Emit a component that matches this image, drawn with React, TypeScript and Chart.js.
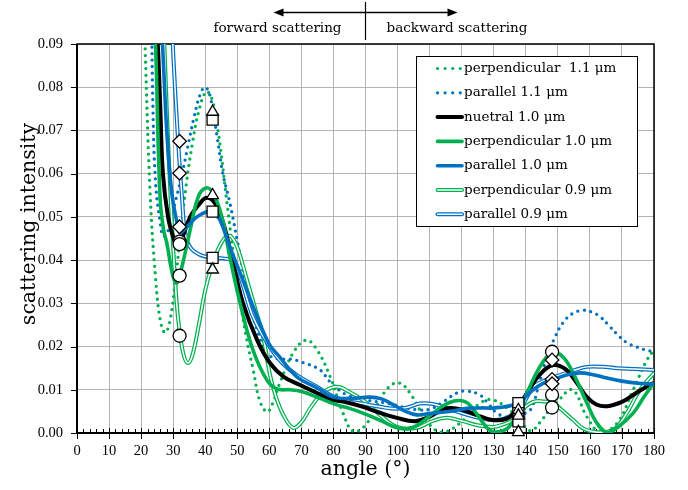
import React, { useEffect, useRef } from "react";
import { Chart, registerables } from "chart.js";

Chart.register(...registerables);

const GREEN = "#00b050";
const BLUE = "#0070c0";
const BLACK = "#000000";

// ---- axis ticks ----
const xTickValues = [0, 10, 20, 30, 40, 50, 60, 70, 80, 90, 100, 110, 120, 130, 140, 150, 160, 170, 180];
const yTickValues = [0, 0.01, 0.02, 0.03, 0.04, 0.05, 0.06, 0.07, 0.08, 0.09];

// ---- series labels ----
const seriesLabels = [
  "perpendicular  1.1 \u03bcm",
  "parallel 1.1 \u03bcm",
  "nuetral 1.0 \u03bcm",
  "perpendicular 1.0 \u03bcm",
  "parallel 1.0 \u03bcm",
  "perpendicular 0.9 \u03bcm",
  "parallel 0.9 \u03bcm",
];

// ---- perpendicular 1.1 um (green dotted) ----
const perp11Angles = [21, 22.8, 24.5, 26, 27.5, 29, 30.5, 32, 34, 36, 38, 40.3, 42, 44, 46.8, 49, 51, 53, 55, 57, 59.3, 61, 63.3, 67.4, 71.5, 74.9, 79, 83, 86.3, 90.5, 96.5, 100.5, 104.8, 109.2, 114.2, 121.7, 125.7, 129.5, 135, 138.5, 141.5, 144.5, 147, 149.8, 154.5, 159.1, 163.2, 168.5, 173.5, 177.8, 180];
const perp11Values = [0.095, 0.0556, 0.036, 0.026, 0.0232, 0.026, 0.034, 0.044, 0.057, 0.067, 0.0745, 0.079, 0.0775, 0.07, 0.0532, 0.04, 0.03, 0.0215, 0.0145, 0.0075, 0.0049, 0.0068, 0.0116, 0.0185, 0.0215, 0.0192, 0.013, 0.0046, 0.0003, 0.0023, 0.01, 0.0116, 0.0082, 0.0026, 0.0002, 0.0037, 0.0069, 0.0077, 0.0053, 0.0025, 0.0005, 0.0025, 0.005, 0.0072, 0.01, 0.0037, 0.0002, 0.0023, 0.01, 0.0169, 0.0192];

// ---- parallel 1.1 um (blue dotted) ----
const par11Angles = [23.2, 23.7, 24.5, 25.9, 27, 28.5, 30.5, 32.5, 34.5, 36.5, 38.5, 40, 41.5, 43.7, 45.5, 47.7, 50.9, 53.5, 56.2, 59.2, 62.4, 66.5, 70.5, 75.8, 79, 84.2, 90.5, 96.7, 101.7, 106, 110.1, 114.2, 118.6, 121.5, 125.7, 128.5, 131, 134.5, 138, 140.4, 142, 144, 146.6, 149, 151.6, 154.5, 157.9, 160.5, 163.2, 166, 169.4, 172, 174.7, 177, 180];
const par11Values = [0.1, 0.075, 0.058, 0.049, 0.0455, 0.047, 0.053, 0.059, 0.066, 0.073, 0.0785, 0.08, 0.078, 0.0686, 0.06, 0.0532, 0.041, 0.031, 0.0238, 0.0185, 0.0172, 0.0171, 0.0163, 0.0146, 0.0118, 0.0088, 0.0076, 0.0069, 0.006, 0.0054, 0.0055, 0.0072, 0.0093, 0.0097, 0.0088, 0.0066, 0.0046, 0.0036, 0.0042, 0.0048, 0.006, 0.011, 0.0176, 0.022, 0.0255, 0.0276, 0.0284, 0.028, 0.0269, 0.0248, 0.0222, 0.0207, 0.0199, 0.0193, 0.0188];

// ---- neutral 1.0 um (black) ----
const neut10Angles = [24.3, 25.2, 26, 26.8, 28.4, 30, 31.5, 33, 35.3, 38.4, 40.5, 43, 45.6, 48.7, 51.8, 56.2, 60.2, 64.5, 69.6, 75, 79, 84, 89, 94, 99.8, 105.5, 110, 115, 119.5, 124.5, 129.5, 134, 136.5, 140.4, 144.5, 148.5, 152.5, 156, 159.1, 162, 165.4, 170, 173.5, 176.5, 180];
const neut10Values = [0.1, 0.09, 0.075, 0.06, 0.05, 0.0454, 0.043, 0.0455, 0.05, 0.0532, 0.0544, 0.0532, 0.0486, 0.0393, 0.03, 0.0215, 0.0162, 0.013, 0.0111, 0.0092, 0.0078, 0.0071, 0.0061, 0.0048, 0.0035, 0.0027, 0.0038, 0.0057, 0.0055, 0.0042, 0.003, 0.0033, 0.0048, 0.0093, 0.0136, 0.0157, 0.0147, 0.0115, 0.0083, 0.0066, 0.0062, 0.0072, 0.0088, 0.0102, 0.0116];

// ---- perpendicular 1.0 um (green thick) ----
const perp10Angles = [23.8, 24.5, 25.9, 27, 28, 30, 31.2, 33, 35.3, 37.8, 40.2, 42.4, 45.2, 47.7, 50.9, 54.9, 59.2, 62.4, 66.5, 70, 74.9, 81.1, 85, 89.2, 95, 99.8, 103, 106, 112.3, 116, 119.5, 122.5, 127.9, 130.5, 135, 140.4, 144, 148, 151.6, 155, 159.1, 162, 165.4, 169, 173.5, 177, 180];
const perp10Values = [0.1, 0.09, 0.0546, 0.047, 0.044, 0.0361, 0.0347, 0.0393, 0.047, 0.0546, 0.0567, 0.0556, 0.05, 0.0407, 0.03, 0.0192, 0.0123, 0.0102, 0.01, 0.0096, 0.0083, 0.0065, 0.0057, 0.0046, 0.0028, 0.0012, 0.001, 0.0017, 0.0053, 0.007, 0.0075, 0.0065, 0.0012, 0.0002, 0.0016, 0.0093, 0.0148, 0.0185, 0.0176, 0.0135, 0.0069, 0.0025, 0.0001, 0.0015, 0.0046, 0.0085, 0.0116];

// ---- parallel 1.0 um (blue thick) ----
const par10Angles = [26, 27, 28, 29.5, 31.2, 32.1, 34.3, 37.4, 40.5, 42.4, 44.6, 47.7, 50.9, 56.2, 60, 63, 68.6, 74.9, 79.9, 85, 91.4, 95, 98, 102, 106, 110, 115.4, 121.7, 126, 130, 136, 139, 142.3, 146, 149.8, 153, 156.9, 161, 165.4, 170, 175, 180];
const par10Values = [0.1, 0.085, 0.07, 0.056, 0.0486, 0.0463, 0.0477, 0.05, 0.0512, 0.0512, 0.0493, 0.043, 0.037, 0.0269, 0.0205, 0.0178, 0.013, 0.0104, 0.0083, 0.008, 0.0083, 0.0079, 0.0068, 0.0052, 0.0042, 0.0045, 0.0049, 0.0057, 0.0058, 0.0058, 0.0065, 0.0078, 0.01, 0.0117, 0.0127, 0.0135, 0.0139, 0.0135, 0.0127, 0.012, 0.0115, 0.0113];

// ---- perpendicular 0.9 um (green double) ----
const perp09Angles = [26.8, 28, 29.5, 31, 32, 33.3, 34.6, 36, 38, 40, 42, 44, 46.5, 48, 50, 53, 55.5, 58, 60.2, 62, 64.5, 67.4, 70, 73, 77, 81.1, 85, 89.2, 94, 99.8, 106, 111, 115.4, 120, 125, 129.8, 133, 136, 139, 142.3, 145.5, 148.5, 151, 154.8, 158, 162.2, 167.2, 171, 175.6, 180];
const perp09Values = [0.1, 0.075, 0.05, 0.031, 0.0235, 0.018, 0.0162, 0.018, 0.025, 0.033, 0.0385, 0.0425, 0.0455, 0.0455, 0.043, 0.0355, 0.029, 0.0225, 0.0135, 0.0085, 0.004, 0.0012, 0.0025, 0.006, 0.0095, 0.0107, 0.0095, 0.0076, 0.0045, 0.0014, 0.0012, 0.0028, 0.0035, 0.0028, 0.0018, 0.0014, 0.002, 0.003, 0.0055, 0.0072, 0.0073, 0.0069, 0.0055, 0.003, 0.001, 0.0002, 0.0007, 0.004, 0.01, 0.0139];

// ---- parallel 0.9 um (blue double) ----
const par09Angles = [29.3, 30, 31.5, 32.8, 33.7, 35.3, 38.4, 42.1, 45.6, 48.4, 50.9, 54.9, 60.2, 64, 68.6, 74.9, 79.9, 85, 89.2, 95, 99.8, 103.5, 107, 111, 115, 121.7, 126, 129.8, 134, 138.5, 142.3, 146, 150.7, 155, 159.1, 164, 168.5, 174, 180];
const par09Values = [0.1, 0.088, 0.068, 0.054, 0.0465, 0.043, 0.0412, 0.0406, 0.0404, 0.0398, 0.0361, 0.0269, 0.0198, 0.0162, 0.0134, 0.0107, 0.0085, 0.0073, 0.0068, 0.006, 0.0056, 0.006, 0.0068, 0.0067, 0.0058, 0.0042, 0.0034, 0.003, 0.0035, 0.006, 0.0106, 0.0122, 0.0134, 0.0145, 0.0153, 0.0153, 0.015, 0.0148, 0.0146];

// ---- markers ----
const diamondAngles = [32, 32, 32, 148.2, 148.2, 148.2];
const diamondValues = [0.0675, 0.0601, 0.0477, 0.0169, 0.0124, 0.0114];
const circleAngles = [32, 32, 32, 32, 148.2, 148.2, 148.2];
const circleValues = [0.0443, 0.0437, 0.0364, 0.0225, 0.0188, 0.0088, 0.0059];
const triangleAngles = [42.3, 42.3, 42.3, 137.7, 137.7, 137.7];
const triangleValues = [0.0743, 0.055, 0.0378, 0.0053, 0.004, 0.0002];
const squareAngles = [42.3, 42.3, 42.3, 137.7, 137.7, 137.7];
const squareValues = [0.0725, 0.0512, 0.0405, 0.0069, 0.0046, 0.0027];

const pts = (xs: number[], ys: number[]) => xs.map((x, i) => ({ x, y: ys[i] }));

const TEXT_FONT = '"DejaVu Serif", "Liberation Serif", serif';
const TICK_FONT = '"Liberation Serif", "DejaVu Serif", serif';

type Kind = "dotted" | "solid" | "double";
const legendKinds: { kind: Kind; color: string; width: number }[] = [
  { kind: "dotted", color: GREEN, width: 3.2 },
  { kind: "dotted", color: BLUE, width: 3.2 },
  { kind: "solid", color: BLACK, width: 4 },
  { kind: "solid", color: GREEN, width: 3.6 },
  { kind: "solid", color: BLUE, width: 3.6 },
  { kind: "double", color: GREEN, width: 4 },
  { kind: "double", color: BLUE, width: 4 },
];

const decor = {
  id: "decor",
  beforeDatasetsDraw(chart: any) {
    const { ctx, chartArea: a, scales } = chart;
    const xs = scales.x;
    const ys = scales.y;
    ctx.save();
    ctx.strokeStyle = "#000";
    ctx.lineWidth = 1;
    for (let v = 0; v <= 180; v += 2) {
      const px = Math.round(xs.getPixelForValue(v)) + 0.5;
      ctx.beginPath();
      if (v % 10 === 0) {
        ctx.moveTo(px, a.bottom - 5);
        ctx.lineTo(px, a.bottom + 6);
      } else {
        ctx.moveTo(px, a.bottom - 4);
        ctx.lineTo(px, a.bottom);
      }
      ctx.stroke();
    }
    for (const v of yTickValues) {
      const py = Math.round(ys.getPixelForValue(v)) + 0.5;
      ctx.beginPath();
      ctx.moveTo(a.left - 6, py);
      ctx.lineTo(a.left, py);
      ctx.stroke();
    }
    ctx.lineWidth = 1.5;
    ctx.strokeRect(a.left, a.top, a.right - a.left, a.bottom - a.top);
    ctx.lineWidth = 2;
    ctx.beginPath();
    ctx.moveTo(a.left, a.top);
    ctx.lineTo(a.left, a.bottom);
    ctx.lineTo(a.right, a.bottom);
    ctx.stroke();
    ctx.restore();
  },
  afterDraw(chart: any) {
    const { ctx, chartArea: a, scales } = chart;
    const xs = scales.x;
    ctx.save();
    // legend box
    const bx = 416, by = 56, bw = 221, bh = 170;
    ctx.fillStyle = "#fff";
    ctx.fillRect(bx, by, bw, bh);
    ctx.strokeStyle = "#000";
    ctx.lineWidth = 1;
    ctx.strokeRect(bx + 0.5, by + 0.5, bw, bh);
    ctx.font = `13.5px ${TEXT_FONT}`;
    ctx.textBaseline = "middle";
    ctx.textAlign = "left";
    seriesLabels.forEach((label, i) => {
      const y = 68.5 + i * 24.3;
      const k = legendKinds[i];
      const x0 = 437.5, x1 = 462;
      ctx.save();
      ctx.strokeStyle = k.color;
      if (k.kind === "dotted") {
        ctx.setLineDash([0, 7.6]);
        ctx.lineCap = "round";
        ctx.lineWidth = k.width;
        ctx.beginPath();
        ctx.moveTo(x0, y);
        ctx.lineTo(x1 + 1, y);
        ctx.stroke();
      } else if (k.kind === "solid") {
        ctx.lineWidth = k.width;
        ctx.lineCap = "round";
        ctx.beginPath();
        ctx.moveTo(x0, y);
        ctx.lineTo(x1, y);
        ctx.stroke();
      } else {
        ctx.lineWidth = k.width;
        ctx.lineCap = "round";
        ctx.beginPath();
        ctx.moveTo(x0, y);
        ctx.lineTo(x1, y);
        ctx.stroke();
        ctx.strokeStyle = "#fff";
        ctx.lineWidth = 1.6;
        ctx.beginPath();
        ctx.moveTo(x0, y);
        ctx.lineTo(x1, y);
        ctx.stroke();
      }
      ctx.restore();
      ctx.fillStyle = "#000";
      ctx.fillText(label, 464, y);
    });

    // top annotation
    const cx = xs.getPixelForValue(90);
    ctx.strokeStyle = "#000";
    ctx.fillStyle = "#000";
    ctx.lineWidth = 1.2;
    ctx.beginPath();
    ctx.moveTo(cx, 2);
    ctx.lineTo(cx, 40);
    ctx.stroke();
    const ay = 12.5, ax0 = cx - 92, ax1 = cx + 92;
    ctx.lineWidth = 1.5;
    ctx.beginPath();
    ctx.moveTo(ax0 + 6, ay);
    ctx.lineTo(ax1 - 6, ay);
    ctx.stroke();
    ctx.beginPath();
    ctx.moveTo(ax0, ay);
    ctx.lineTo(ax0 + 10, ay - 4);
    ctx.lineTo(ax0 + 10, ay + 4);
    ctx.closePath();
    ctx.fill();
    ctx.beginPath();
    ctx.moveTo(ax1, ay);
    ctx.lineTo(ax1 - 10, ay - 4);
    ctx.lineTo(ax1 - 10, ay + 4);
    ctx.closePath();
    ctx.fill();
    ctx.font = `13.5px ${TEXT_FONT}`;
    ctx.textBaseline = "middle";
    ctx.textAlign = "right";
    ctx.fillText("forward scattering", cx - 24, 28);
    ctx.textAlign = "left";
    ctx.fillText("backward scattering", cx + 21, 28);

    // axis titles
    ctx.font = `20.5px ${TEXT_FONT}`;
    ctx.textAlign = "center";
    ctx.textBaseline = "middle";
    ctx.fillText("angle (\u00b0)", (a.left + a.right) / 2, 470);
    ctx.save();
    ctx.translate(30, 224);
    ctx.rotate(-Math.PI / 2);
    ctx.fillText("scattering intensity", 0, 0);
    ctx.restore();
    ctx.restore();
  },
};

const lineDs = (label: string, data: any[], color: string, width: number, order: number, extra: any = {}) => ({
  label,
  data,
  borderColor: color,
  backgroundColor: color,
  borderWidth: width,
  pointRadius: 0,
  pointHoverRadius: 0,
  tension: 0.4,
  fill: false,
  order,
  ...extra,
});

const markerDs = (label: string, data: any[], style: string, radius: number) => ({
  label,
  data,
  showLine: false,
  pointStyle: style,
  pointRadius: radius,
  pointHoverRadius: radius,
  pointBackgroundColor: "#fff",
  pointBorderColor: "#000",
  pointBorderWidth: 1.3,
  borderColor: "#000",
  backgroundColor: "#fff",
  clip: false,
  order: 0,
});

export default function App() {
  const ref = useRef<HTMLCanvasElement | null>(null);
  useEffect(() => {
    if (!ref.current) return;
    const dotted = { borderDash: [0, 6.6], borderCapStyle: "round" };
    const chart = new Chart(ref.current, {
      type: "line",
      data: {
        datasets: [
          markerDs("diamonds", pts(diamondAngles, diamondValues), "rectRot", 6.8),
          markerDs("circles", pts(circleAngles, circleValues), "circle", 6.5),
          markerDs("triangles", pts(triangleAngles, triangleValues), "triangle", 6.8),
          markerDs("squares", pts(squareAngles, squareValues), "rect", 7.8),
          lineDs(seriesLabels[4], pts(par10Angles, par10Values), BLUE, 3.6, 1),
          lineDs(seriesLabels[3], pts(perp10Angles, perp10Values), GREEN, 3.6, 2),
          lineDs(seriesLabels[2], pts(neut10Angles, neut10Values), BLACK, 4, 3),
          lineDs(seriesLabels[6] + " inner", pts(par09Angles, par09Values), "#fff", 1.5, 4),
          lineDs(seriesLabels[6], pts(par09Angles, par09Values), BLUE, 4, 5),
          lineDs(seriesLabels[5] + " inner", pts(perp09Angles, perp09Values), "#fff", 1.5, 6),
          lineDs(seriesLabels[5], pts(perp09Angles, perp09Values), GREEN, 4, 7),
          lineDs(seriesLabels[1], pts(par11Angles, par11Values), BLUE, 3.3, 8, dotted),
          lineDs(seriesLabels[0], pts(perp11Angles, perp11Values), GREEN, 3.3, 9, dotted),
        ],
      },
      options: {
        responsive: false,
        animation: false,
        devicePixelRatio: 1,
        layout: { padding: { top: 44, right: 34, left: 0, bottom: 0 } },
        plugins: { legend: { display: false }, tooltip: { enabled: false }, title: { display: false } },
        events: [],
        scales: {
          x: {
            type: "linear",
            min: 0,
            max: 180,
            afterFit: (s: any) => { s.height = 57; },
            afterBuildTicks: (s: any) => { s.ticks = xTickValues.map((v) => ({ value: v })); },
            ticks: {
              autoSkip: false,
              maxRotation: 0,
              padding: 9,
              color: "#000",
              font: { family: TICK_FONT, size: 14.5 },
              callback: (v: any) => String(v),
            },
            grid: { color: "#b4b4b4", lineWidth: 1, drawTicks: false },
            border: { display: false },
          },
          y: {
            type: "linear",
            min: 0,
            max: 0.09,
            afterFit: (s: any) => { s.width = 77; },
            afterBuildTicks: (s: any) => { s.ticks = yTickValues.map((v) => ({ value: v })); },
            ticks: {
              padding: 14,
              color: "#000",
              font: { family: TICK_FONT, size: 14.5 },
              callback: (v: any) => Number(v).toFixed(2),
            },
            grid: { color: "#b4b4b4", lineWidth: 1, drawTicks: false },
            border: { display: false },
          },
        },
      } as any,
      plugins: [decor as any],
    });
    return () => chart.destroy();
  }, []);
  return (
    <div style={{ position: "absolute", left: 0, top: 0, width: 688, height: 490, background: "#fff" }}>
      <canvas ref={ref} width={688} height={490} style={{ display: "block" }} />
    </div>
  );
}
